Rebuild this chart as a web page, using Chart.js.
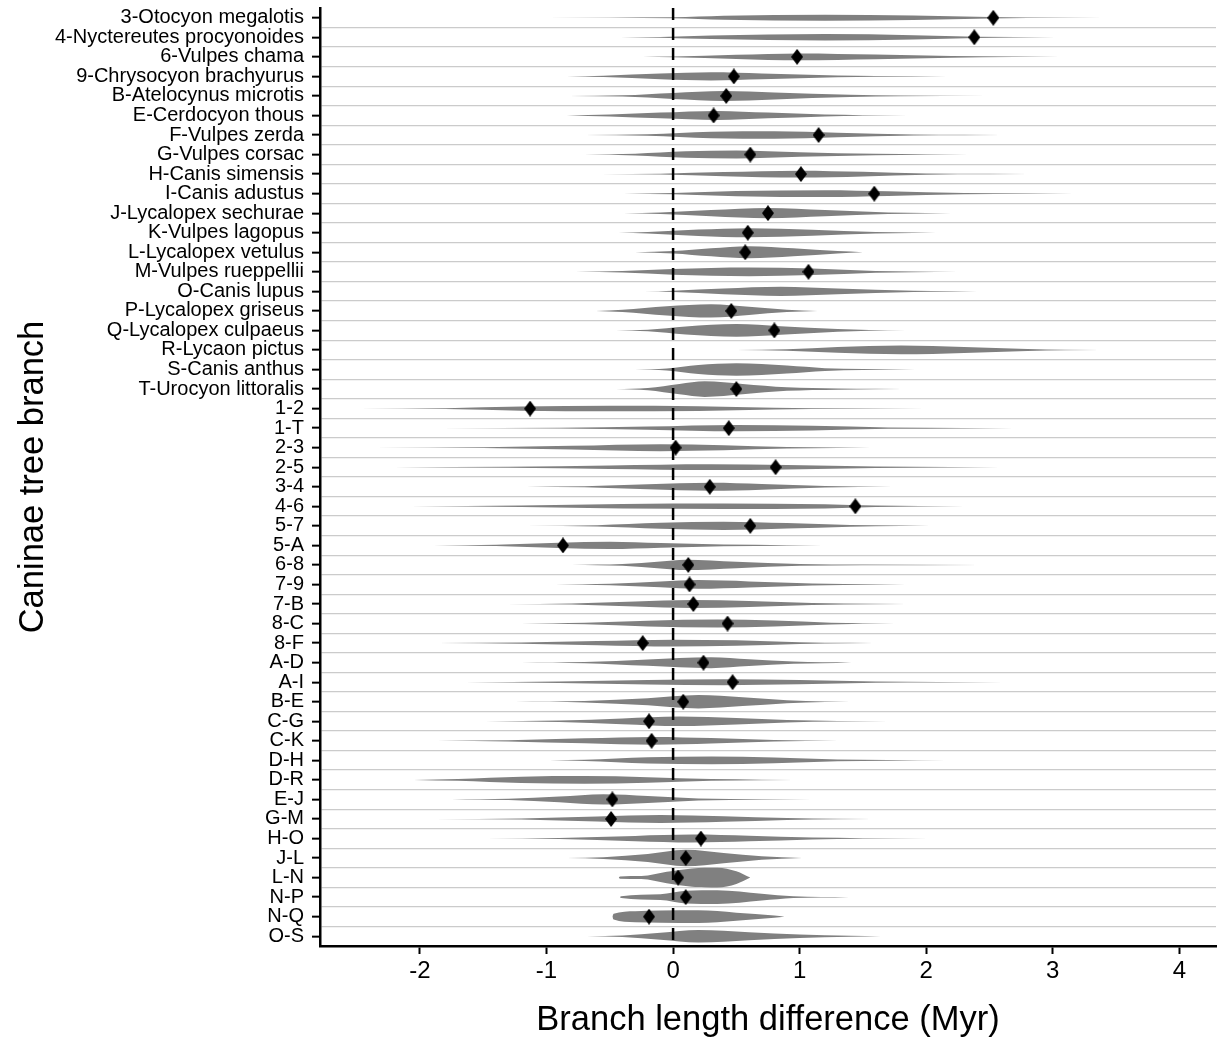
<!DOCTYPE html>
<html>
<head>
<meta charset="utf-8">
<title>Caninae branch length differences</title>
<script src="https://cdn.jsdelivr.net/npm/chart.js@4.4.1/dist/chart.umd.min.js"></script>
<style>
  html, body { margin: 0; padding: 0; background: #fff; }
  #wrap { width: 1224px; height: 1038px; position: relative; }
</style>
</head>
<body>
<div id="wrap"><canvas id="violinChart"></canvas></div>
<script>
'use strict';

// ---- data
const branchLabels = [
  '3-Otocyon megalotis', '4-Nyctereutes procyonoides', '6-Vulpes chama', '9-Chrysocyon brachyurus',
  'B-Atelocynus microtis', 'E-Cerdocyon thous', 'F-Vulpes zerda', 'G-Vulpes corsac',
  'H-Canis simensis', 'I-Canis adustus', 'J-Lycalopex sechurae', 'K-Vulpes lagopus',
  'L-Lycalopex vetulus', 'M-Vulpes rueppellii', 'O-Canis lupus', 'P-Lycalopex griseus',
  'Q-Lycalopex culpaeus', 'R-Lycaon pictus', 'S-Canis anthus', 'T-Urocyon littoralis',
  '1-2', '1-T', '2-3', '2-5', '3-4', '4-6', '5-7', '5-A', '6-8', '7-9', '7-B', '8-C',
  '8-F', 'A-D', 'A-I', 'B-E', 'C-G', 'C-K', 'D-H', 'D-R', 'E-J', 'G-M', 'H-O', 'J-L',
  'L-N', 'N-P', 'N-Q', 'O-S'
];

// diamond markers (null = no marker on that branch)
const meanDiff = [
  2.53, 2.38, 0.98, 0.48, 0.42, 0.32, 1.15, 0.61, 1.01, 1.59,
  0.75, 0.59, 0.57, 1.07, null, 0.46, 0.80, null, null, 0.50,
  -1.13, 0.44, 0.02, 0.81, 0.29, 1.44, 0.61, -0.87, 0.12, 0.13,
  0.16, 0.43, -0.24, 0.24, 0.47, 0.08, -0.19, -0.17, null, null,
  -0.48, -0.49, 0.22, 0.10, 0.04, 0.10, -0.19, null
];

// violin outlines: [difference, relative density]
const violinKnots = [
  [[-1.0,0],[0,0.4],[0.4,1.8],[1.2,2.7],[1.9,2.0],[2.5,0.7],[2.8,0.3],[3.98,0]],
  [[-0.73,0],[-0.1,0.3],[0.3,1.5],[1.2,2.8],[1.9,1.8],[2.4,0.5],[3.02,0]],
  [[-0.48,0],[0,0.3],[0.5,1.8],[1.0,3.0],[1.6,2.0],[2.2,0.7],[2.7,0.2],[3.4,0]],
  [[-0.84,0],[-0.55,0.6],[-0.1,2.5],[0.3,3.5],[0.7,2.5],[1.3,0.7],[1.6,0.3],[2.16,0]],
  [[-0.82,0],[-0.4,0.5],[0,2.6],[0.4,4.3],[0.8,3.0],[1.4,1.0],[1.8,0.3],[2.48,0]],
  [[-0.84,0],[-0.5,0.8],[-0.1,2.5],[0.35,4.0],[0.75,2.5],[1.2,0.8],[1.5,0.3],[2.2,0]],
  [[-0.7,0],[-0.2,0.7],[0.3,2.8],[0.8,3.3],[1.3,2.0],[1.9,0.5],[2.3,0.2],[2.89,0]],
  [[-0.7,0],[-0.3,0.8],[0.1,2.8],[0.5,3.5],[1.0,2.0],[1.6,0.6],[2.0,0.2],[2.66,0]],
  [[-0.57,0],[-0.1,0.4],[0.4,1.8],[1.0,3.0],[1.5,2.0],[2.0,0.5],[2.5,0.2],[3.11,0]],
  [[-0.39,0],[0,0.6],[0.5,2.2],[1.2,3.0],[1.7,2.0],[2.3,0.5],[2.8,0.2],[3.52,0]],
  [[-0.39,0],[-0.1,0.7],[0.3,2.7],[0.75,4.5],[1.2,2.7],[1.7,0.6],[2.0,0.2],[2.39,0]],
  [[-0.43,0],[-0.2,0.7],[0.2,2.8],[0.6,4.0],[1.1,2.7],[1.6,0.7],[1.9,0.2],[2.25,0]],
  [[-0.3,0],[0,1.0],[0.3,3.5],[0.6,5.3],[0.95,3.5],[1.3,1.0],[1.5,0]],
  [[-0.77,0],[-0.4,0.6],[0,2.5],[0.6,3.8],[1.1,2.8],[1.6,0.8],[1.9,0.3],[2.25,0]],
  [[-0.23,0],[0,0.6],[0.4,2.5],[0.85,4.0],[1.3,2.5],[1.9,0.6],[2.2,0.2],[2.6,0]],
  [[-0.61,0],[-0.4,1.0],[-0.05,4.0],[0.3,5.8],[0.6,3.5],[0.9,1.0],[1.14,0]],
  [[-0.45,0],[-0.2,0.7],[0.1,3.5],[0.5,5.5],[0.85,3.7],[1.3,1.2],[1.55,0.3],[1.84,0]],
  [[0.5,0],[0.9,0.6],[1.3,2.5],[1.8,3.8],[2.3,2.6],[2.8,0.8],[3.1,0.2],[3.64,0]],
  [[-0.3,0],[-0.05,0.9],[0.2,4.0],[0.5,5.5],[0.9,3.5],[1.2,1.2],[1.5,0.4],[1.91,0]],
  [[-0.45,0],[-0.2,1.0],[0.05,4.5],[0.25,6.8],[0.55,4.5],[0.9,1.5],[1.3,0.5],[1.6,0.2],[2.02,0]],
  [[-2.48,0],[-1.8,0.4],[-1.2,1.8],[-0.5,2.4],[0.2,2.0],[0.8,0.7],[1.4,0.2],[2.57,0]],
  [[-1.84,0],[-0.9,0.3],[-0.2,1.4],[0.5,2.8],[1.1,2.0],[1.7,0.6],[2.3,0.2],[3.07,0]],
  [[-2.36,0],[-1.5,0.3],[-0.8,1.6],[-0.1,3.0],[0.4,2.2],[0.9,0.7],[1.3,0.2],[1.82,0]],
  [[-2.2,0],[-1.3,0.4],[-0.5,1.5],[0.3,2.5],[0.9,2.0],[1.6,0.6],[2.2,0.2],[2.95,0]],
  [[-1.16,0],[-0.7,0.4],[-0.2,2.2],[0.3,3.5],[0.7,2.5],[1.2,0.7],[1.73,0]],
  [[-2.07,0],[-1.2,0.6],[-0.4,2.0],[0.4,2.4],[1.2,1.8],[1.6,0.6],[2.3,0]],
  [[-1.16,0],[-0.6,0.6],[-0.1,2.6],[0.4,3.6],[0.9,2.4],[1.4,0.7],[1.8,0.2],[2.25,0]],
  [[-1.89,0],[-1.4,0.5],[-0.9,2.3],[-0.5,3.2],[-0.1,2.0],[0.4,0.7],[0.9,0.2],[1.45,0]],
  [[-0.8,0],[-0.4,0.8],[-0.1,3.0],[0.1,4.5],[0.5,2.8],[1.0,0.8],[1.5,0.3],[2.43,0]],
  [[-0.93,0],[-0.5,0.6],[-0.1,2.5],[0.2,3.8],[0.6,2.7],[1.1,0.9],[1.6,0.2],[2.07,0]],
  [[-1.32,0],[-0.8,0.5],[-0.3,2.2],[0.15,3.4],[0.6,2.6],[1.1,0.9],[1.6,0.2],[2.09,0]],
  [[-1.2,0],[-0.7,0.7],[-0.2,2.5],[0.35,3.5],[0.8,2.6],[1.25,0.8],[1.75,0]],
  [[-1.86,0],[-1.2,0.5],[-0.6,1.8],[0.0,3.0],[0.5,2.4],[1.0,0.8],[1.4,0.2],[1.77,0]],
  [[-1.2,0],[-0.7,0.5],[-0.2,2.8],[0.3,4.8],[0.6,3.0],[0.95,0.9],[1.41,0]],
  [[-1.64,0],[-0.9,0.6],[-0.2,2.0],[0.4,2.6],[1.0,1.8],[1.6,0.5],[2.1,0.2],[2.61,0]],
  [[-1.25,0],[-0.7,0.6],[-0.2,3.0],[0.2,5.8],[0.55,3.8],[0.9,1.3],[1.2,0.3],[1.59,0]],
  [[-1.48,0],[-0.9,0.6],[-0.4,2.5],[0.05,4.2],[0.5,2.8],[0.9,1.0],[1.3,0.3],[1.7,0]],
  [[-1.86,0],[-1.3,0.5],[-0.7,2.2],[-0.15,3.4],[0.3,2.4],[0.8,0.7],[1.3,0]],
  [[-1.25,0],[-0.7,0.6],[-0.2,2.8],[0.3,3.4],[0.8,2.5],[1.3,0.8],[1.7,0.3],[2.16,0]],
  [[-2.05,0],[-1.7,0.8],[-1.2,2.8],[-0.7,3.3],[-0.2,2.4],[0.3,0.7],[0.7,0.2],[1.2,0]],
  [[-1.75,0],[-1.3,0.5],[-0.9,2.5],[-0.55,4.5],[-0.2,3.0],[0.2,0.9],[0.7,0.2],[1.48,0]],
  [[-1.89,0],[-1.2,0.5],[-0.6,2.2],[-0.1,3.4],[0.4,2.4],[0.9,0.8],[1.3,0.2],[1.84,0]],
  [[-1.48,0],[-0.9,0.5],[-0.3,2.3],[0.15,3.4],[0.6,2.4],[1.1,0.8],[1.5,0.3],[2.02,0]],
  [[-0.84,0],[-0.55,0.8],[-0.2,3.5],[0.1,7.2],[0.4,4.5],[0.7,1.5],[1.02,0]],
  [[-0.43,0],[-0.42,1.0],[-0.25,1.3],[-0.05,5.0],[0.15,8.0],[0.35,8.6],[0.5,5.5],[0.61,0]],
  [[-0.42,0],[-0.41,0.8],[-0.1,2.5],[0.1,5.5],[0.35,6.0],[0.7,3.0],[0.95,0.8],[1.39,0]],
  [[-0.48,0],[-0.47,2.5],[-0.3,4.8],[-0.1,5.3],[0.2,5.5],[0.5,3.5],[0.8,1.0],[0.88,0]],
  [[-0.68,0],[-0.4,0.6],[-0.1,3.0],[0.2,5.5],[0.6,3.5],[1.0,1.5],[1.4,0.5],[1.64,0]]
];

const xTicks = [-2, -1, 0, 1, 2, 3, 4];
const xRange = [-2.79, 4.29];

// ---- styling
const FONT = '"Liberation Sans", Arial, Helvetica, sans-serif';
const violinFill = '#808080';
const sepColor = '#cbcbcb';
const widthScale = 1 / 17; // density unit -> fraction of a row

function makeDiamond(w, h) {
  const c = document.createElement('canvas');
  c.width = w;
  c.height = h;
  const g = c.getContext('2d');
  g.fillStyle = '#000';
  g.beginPath();
  g.moveTo(w / 2, 0);
  g.lineTo(w, h / 2);
  g.lineTo(w / 2, h);
  g.lineTo(0, h / 2);
  g.closePath();
  g.fill();
  return c;
}

// each violin = upper edge + lower edge filled to the previous dataset
const violinSets = [];
violinKnots.forEach((knots, i) => {
  const common = {
    borderWidth: 0, pointRadius: 0, cubicInterpolationMode: 'monotone', order: 3
  };
  violinSets.push(Object.assign({
    data: knots.map(([x, d]) => ({ x, y: i - d * widthScale })), fill: false
  }, common));
  violinSets.push(Object.assign({
    data: knots.map(([x, d]) => ({ x, y: i + d * widthScale })), fill: '-1', backgroundColor: violinFill
  }, common));
});

const zeroLine = {
  data: [{ x: 0, y: -0.5 }, { x: 0, y: branchLabels.length - 0.5 }],
  borderColor: '#000', borderWidth: 2.5, borderDash: [12, 8],
  pointRadius: 0, fill: false, order: 2
};

const diamonds = {
  data: meanDiff.map((v, i) => (v === null ? null : { x: v, y: i })).filter(p => p),
  showLine: false, pointStyle: makeDiamond(12, 16), pointRadius: 7, order: 1
};

const isSep = tick => tick && !Number.isInteger(tick.value);

new Chart(document.getElementById('violinChart'), {
  type: 'line',
  data: { datasets: [...violinSets, zeroLine, diamonds] },
  options: {
    responsive: true,
    maintainAspectRatio: false,
    animation: false,
    events: [],
    layout: { padding: { top: 8, right: 6, left: 0, bottom: 0 } },
    plugins: { legend: { display: false }, tooltip: { enabled: false } },
    scales: {
      x: {
        type: 'linear',
        min: xRange[0],
        max: xRange[1],
        afterBuildTicks: s => { s.ticks = xTicks.map(v => ({ value: v })); },
        afterFit: s => { s.height = 92; s.paddingLeft = 0; s.paddingRight = 0; },
        border: { display: true, color: '#000', width: 2.5 },
        grid: { drawOnChartArea: false, tickColor: '#000', tickLength: 8, tickWidth: 2 },
        ticks: { color: '#000', font: { family: FONT, size: 24 }, padding: 3, maxRotation: 0 },
        title: {
          display: true, text: 'Branch length difference (Myr)', color: '#000',
          font: { family: FONT, size: 34.5, lineHeight: 1 }, padding: { top: 0, bottom: 0 }
        }
      },
      y: {
        type: 'linear',
        reverse: true,
        min: -0.5,
        max: branchLabels.length - 0.5,
        afterBuildTicks: s => {
          s.ticks = [];
          for (let j = 0; j <= (branchLabels.length - 1) * 2; j++) s.ticks.push({ value: j / 2 });
        },
        afterFit: s => { s.width = 320; s.paddingTop = 0; s.paddingBottom = 0; },
        border: { display: true, color: '#000', width: 2.5 },
        grid: {
          color: ctx => (isSep(ctx.tick) ? sepColor : 'rgba(0,0,0,0)'),
          lineWidth: 1.3,
          tickColor: ctx => (isSep(ctx.tick) ? 'rgba(0,0,0,0)' : '#000'),
          tickLength: 8,
          tickWidth: 2
        },
        ticks: {
          autoSkip: false,
          color: '#000',
          padding: 8,
          font: { family: FONT, size: 20 },
          callback: v => (Number.isInteger(v) ? branchLabels[v] : '')
        },
        title: {
          display: true, text: 'Caninae tree branch', color: '#000',
          font: { family: FONT, size: 34.5 }, padding: { top: 13, bottom: 0 }
        }
      }
    }
  }
});
</script>
</body>
</html>
